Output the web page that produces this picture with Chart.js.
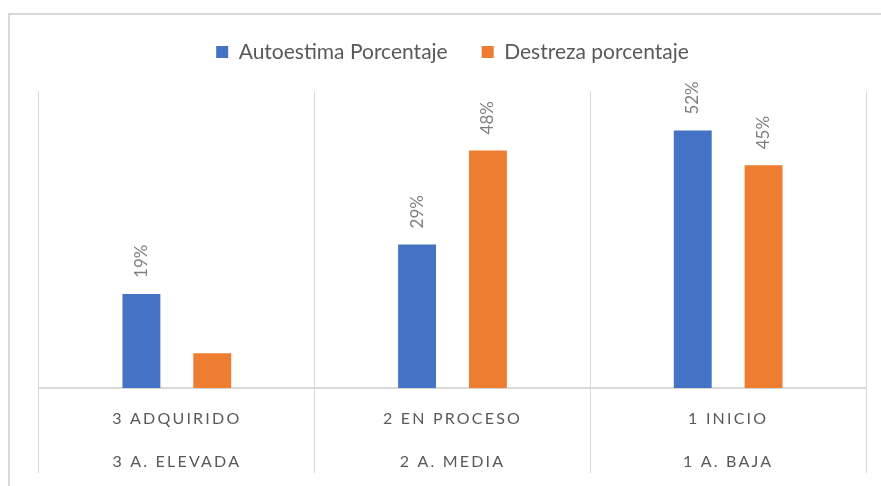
<!DOCTYPE html>
<html>
<head>
<meta charset="utf-8">
<script src="https://cdn.jsdelivr.net/npm/chart.js@4"></script>
<style>
    html, body { margin: 0; padding: 0; background: #fff; overflow: hidden; }
    #marco {
        position: absolute; left: 8px; top: 13px; width: 900px; height: 500px;
        border-left: 2px solid #d9d9d9; border-top: 2px solid #d9d9d9;
    }
    #contenedor { position: absolute; left: 0; top: 0; width: 881px; height: 486px; }
</style>
</head>
<body>
<div id="marco"></div>
<div id="contenedor"><canvas id="grafico" width="881" height="486"></canvas></div>
<script>
// === DATOS ===
const categorias = [
    ["3 ADQUIRIDO", "3 A. ELEVADA"],
    ["2 EN PROCESO", "2 A. MEDIA"],
    ["1 INICIO", "1 A. BAJA"]
];
const autoestima = [19, 29, 52];
const destreza = [7, 48, 45];
// la etiqueta del 7% no aparece en el original
const ocultarAutoestima = [false, false, false];
const ocultarDestreza = [true, false, false];

const AZUL = "#4472C4";
const NARANJA = "#ED7D31";
const FUENTE = "Lato, 'Open Sans', sans-serif";

// === ETIQUETAS VERTICALES + ESPACIADO DE LETRAS EN EJE X ===
const etiquetasPlugin = {
    id: "etiquetas",
    beforeInit(chart) {
        // leyenda mas alta para bajar el area del grafico
        const fitOriginal = chart.legend.fit;
        chart.legend.fit = function() {
            fitOriginal.call(this);
            this.height += 18.5;
        };
    },
    beforeDraw(chart) {
        chart.ctx.letterSpacing = "0px";
    },
    afterDatasetsDraw(chart) {
        const ctx = chart.ctx;
        const ocultos = [ocultarAutoestima, ocultarDestreza];
        chart.data.datasets.forEach((ds, i) => {
            chart.getDatasetMeta(i).data.forEach((bar, j) => {
                if (ocultos[i][j]) return;
                ctx.save();
                ctx.translate(bar.x, bar.y - 16);
                ctx.rotate(-Math.PI / 2);
                ctx.font = "17px " + FUENTE;
                ctx.fillStyle = "#7f7f7f";
                ctx.textAlign = "left";
                ctx.textBaseline = "middle";
                ctx.fillText(ds.data[j] + "%", 0, 0);
                ctx.restore();
            });
        });
        // las etiquetas del eje x se dibujan despues (z: 1) con espaciado
        ctx.letterSpacing = "2.2px";
    },
    afterDraw(chart) {
        chart.ctx.letterSpacing = "0px";
    }
};

// === GRAFICO ===
new Chart(document.getElementById("grafico"), {
    type: "bar",
    data: {
        labels: categorias,
        datasets: [
            {
                label: "Autoestima Porcentaje",
                data: autoestima,
                backgroundColor: AZUL,
                categoryPercentage: 0.514,
                barPercentage: 0.535
            },
            {
                label: "Destreza porcentaje",
                data: destreza,
                backgroundColor: NARANJA,
                categoryPercentage: 0.514,
                barPercentage: 0.535
            }
        ]
    },
    options: {
        responsive: false,
        animation: false,
        layout: { padding: { top: 7.5, left: 39, right: 15, bottom: 3 } },
        plugins: {
            legend: {
                position: "top",
                labels: {
                    boxWidth: 12,
                    boxHeight: 12,
                    padding: 34,
                    color: "#595959",
                    font: { family: FUENTE, size: 21 }
                }
            },
            tooltip: { enabled: false }
        },
        scales: {
            x: {
                // alto fijo para que las etiquetas no queden recortadas
                afterFit(scale) {
                    scale.height = 95;
                },
                grid: {
                    color: "#d9d9d9",
                    lineWidth: 1,
                    tickLength: 85,
                    tickColor: "#d9d9d9",
                    offset: true
                },
                border: { color: "#d9d9d9", width: 2 },
                ticks: {
                    z: 1,
                    color: "#595959",
                    padding: -75.5,
                    maxRotation: 0,
                    font: { family: FUENTE, size: 16, lineHeight: 2.69 }
                }
            },
            y: {
                display: false,
                min: 0,
                max: 60
            }
        }
    },
    plugins: [etiquetasPlugin]
});
</script>
</body>
</html>
